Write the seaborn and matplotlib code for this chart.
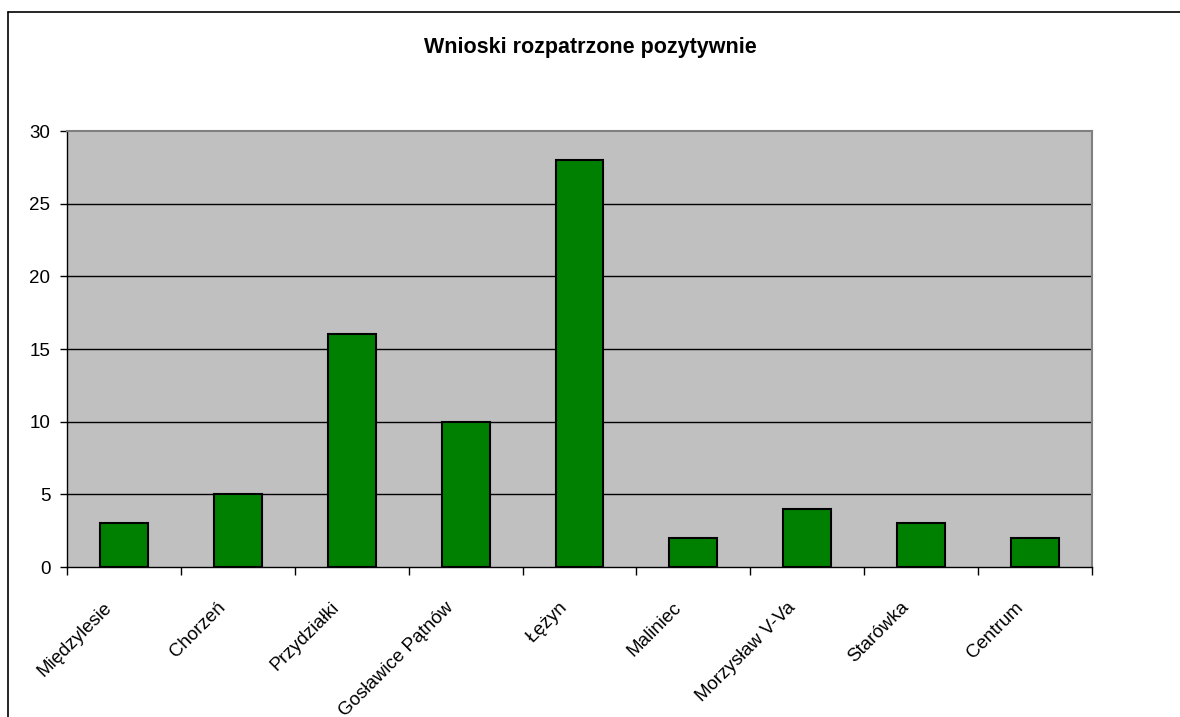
import matplotlib
matplotlib.use('Agg')
import matplotlib.pyplot as plt
import matplotlib.transforms as mtransforms
import seaborn as sns
import numpy as np
from matplotlib.lines import Line2D

districts = ['Międzylesie', 'Chorzeń', 'Przydziałki', 'Gosławice Pątnów', 'Łężyn',
             'Maliniec', 'Morzysław V-Va', 'Starówka', 'Centrum']
positive = [3, 5, 16, 10, 28, 2, 4, 3, 2]
y_ticks = [0, 5, 10, 15, 20, 25, 30]

sns.set_theme(style='white')
plt.rcParams['font.family'] = ['Liberation Sans', 'DejaVu Sans']

fig = plt.figure(figsize=(11.8, 7.17), dpi=100)
ax = fig.add_axes([67 / 1180, 150 / 717, 1025 / 1180, 436 / 717])
ax.set_facecolor('#C0C0C0')

sns.barplot(x=districts, y=positive, color='#008000', saturation=1,
            edgecolor='black', linewidth=1.5, width=0.42, ax=ax, zorder=3)

ax.set_ylim(0, 30)
ax.set_xlim(-0.5, len(districts) - 0.5)
ax.set_yticks(y_ticks)
ax.set_yticklabels([str(t) for t in y_ticks], fontsize=13.5, color='black')
for t in y_ticks[1:-1]:
    ax.axhline(t, color='black', linewidth=1, zorder=1)

# category boundary ticks on x axis, labels on the centres
ax.set_xticks(np.arange(-0.5, len(districts), 1.0))
ax.set_xticklabels([])
ax.tick_params(axis='x', which='major', direction='out', length=6, width=1, color='black', bottom=True)
ax.tick_params(axis='y', direction='out', length=5, width=1, color='black', left=True, pad=7)
ax.set_xticks(np.arange(len(districts)), minor=True)
ax.set_xticklabels(districts, minor=True, rotation=45, ha='right', rotation_mode='anchor',
                   fontsize=13.5, color='black')
ax.tick_params(axis='x', which='minor', length=0, pad=23)
shift = mtransforms.ScaledTranslation(-15 / 72, 0, fig.dpi_scale_trans)
for lab in ax.get_xticklabels(minor=True):
    lab.set_transform(lab.get_transform() + shift)

for side in ['left', 'bottom']:
    ax.spines[side].set_color('black')
    ax.spines[side].set_linewidth(1)
for side in ['top', 'right']:
    ax.spines[side].set_color('#808080')
    ax.spines[side].set_linewidth(1.5)
ax.set_xlabel('')
ax.set_ylabel('')

fig.text(0.5, 1 - 47 / 717, 'Wnioski rozpatrzone pozytywnie', ha='center', va='center',
         fontsize=15.5, fontweight='bold', color='black')

# outer chart border (top and left visible)
fig.add_artist(Line2D([8 / 1180, 8 / 1180], [0, 1 - 12 / 717], transform=fig.transFigure, color='black', linewidth=1.2))
fig.add_artist(Line2D([8 / 1180, 1], [1 - 12 / 717, 1 - 12 / 717], transform=fig.transFigure, color='black', linewidth=1.2))

plt.savefig('out.png', dpi=100, facecolor='white')
plt.close()
